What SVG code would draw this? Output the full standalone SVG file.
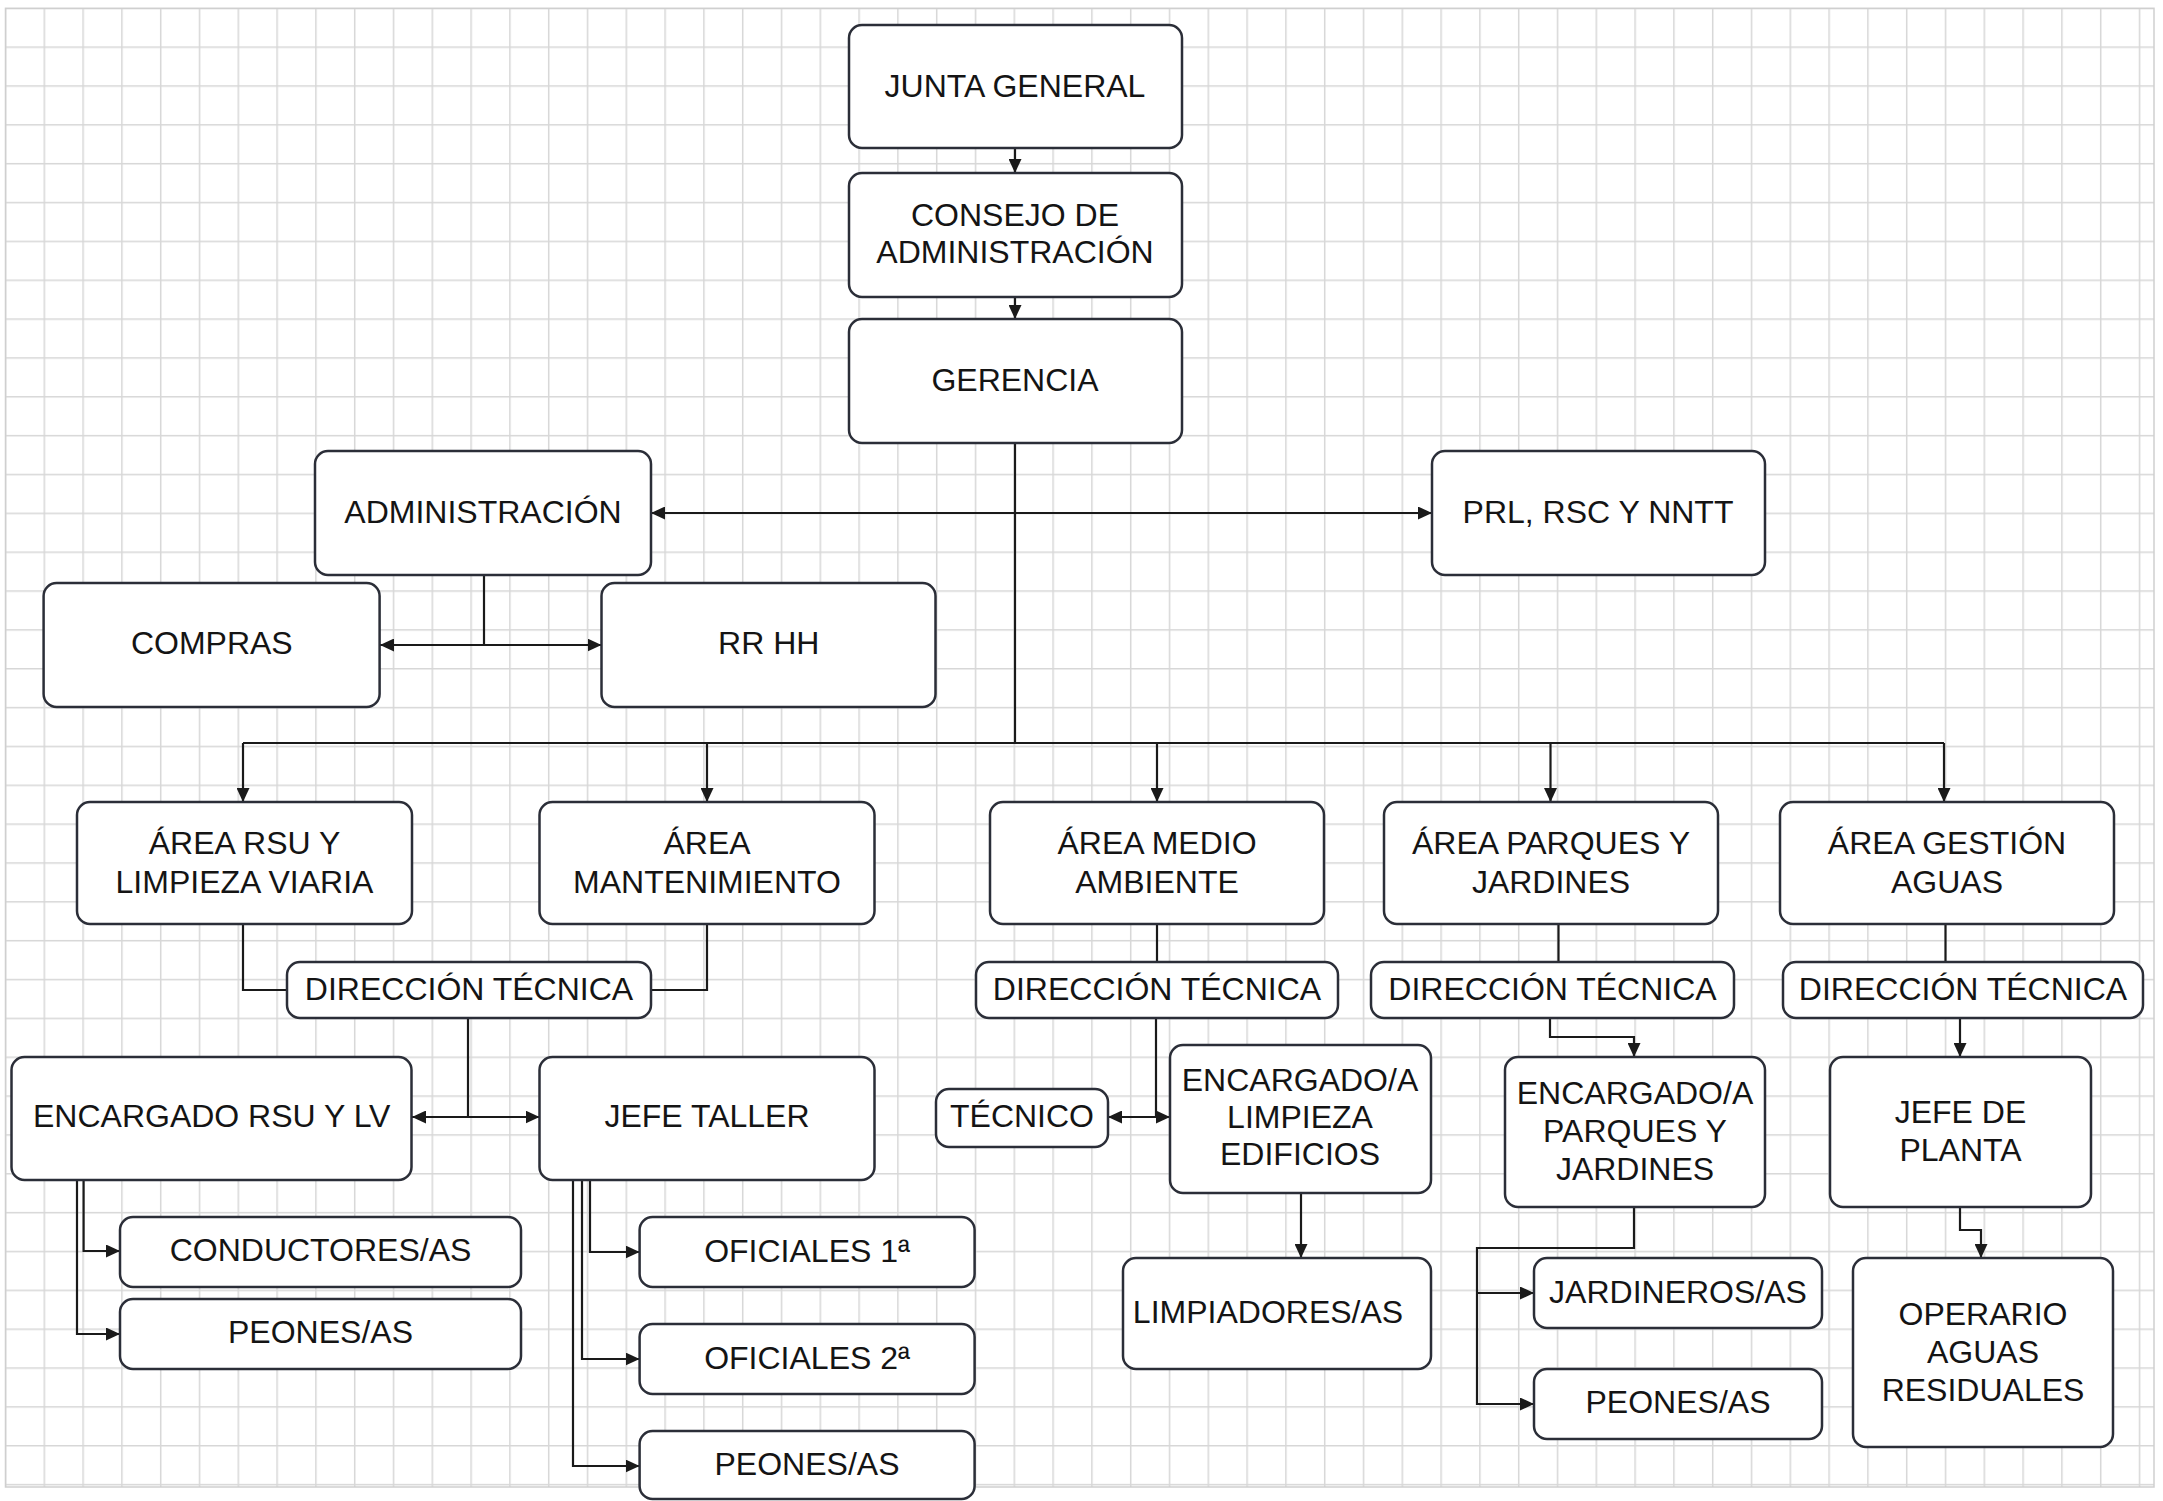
<svg xmlns="http://www.w3.org/2000/svg" width="2163" height="1501" viewBox="0 0 2163 1501">
<defs>
<style>
.box{fill:#ffffff;stroke:#2b2e38;stroke-width:2.5}
.t{font-family:"Liberation Sans",Arial,sans-serif;font-size:32px;fill:#141414;text-anchor:middle}
.c{fill:none;stroke:#1a1a1a;stroke-width:2.2}
.a{marker-end:url(#ah)}
.aa{marker-start:url(#ah);marker-end:url(#ah)}
</style>
<marker id="ah" viewBox="0 0 14 13" refX="14" refY="6.5" markerWidth="14" markerHeight="13" markerUnits="userSpaceOnUse" orient="auto-start-reverse">
<path d="M0,0 L14,6.5 L0,13 z" fill="#1a1a1a"/>
</marker>
<pattern id="grid" patternUnits="userSpaceOnUse" x="4.75" y="7.55" width="38.8" height="38.85">
<path d="M0.75,0 V38.85 M0,0.75 H38.8" fill="none" stroke="#d7d7d7" stroke-width="1.5"/>
</pattern>
</defs>
<rect x="0" y="0" width="2163" height="1501" fill="#ffffff"/>
<rect x="5.5" y="8.3" width="2148.5" height="1478.7" fill="url(#grid)" stroke="#cfcfcf" stroke-width="1.5"/>

<g id="connectors">
<path class="c a" d="M1015,148 V173"/>
<path class="c a" d="M1015,297 V319"/>
<path class="c" d="M1015,443 V743"/>
<path class="c aa" d="M651,513 H1432"/>
<path class="c" d="M484,575 V645"/>
<path class="c aa" d="M380,645 H601.5"/>
<path class="c" d="M243,743 H1944"/>
<path class="c a" d="M243,743 V802"/>
<path class="c a" d="M707,743 V802"/>
<path class="c a" d="M1157,743 V802"/>
<path class="c a" d="M1550.5,743 V802"/>
<path class="c a" d="M1944,743 V802"/>
<path class="c" d="M243,924 V990 H287"/>
<path class="c" d="M707,924 V990 H651"/>
<path class="c" d="M468,1018 V1117"/>
<path class="c aa" d="M412,1117 H539.5"/>
<path class="c a" d="M83.6,1180 V1251 H120"/>
<path class="c a" d="M77,1180 V1334 H120"/>
<path class="c a" d="M590,1180 V1252 H639.6"/>
<path class="c a" d="M582,1180 V1359 H639.6"/>
<path class="c a" d="M573,1180 V1466 H639.6"/>
<path class="c" d="M1157,924 V962"/>
<path class="c" d="M1156,1018 V1117"/>
<path class="c aa" d="M1108,1117 H1170"/>
<path class="c a" d="M1301,1193 V1258"/>
<path class="c" d="M1558.5,924 V962"/>
<path class="c a" d="M1550,1018 V1037 H1634 V1057"/>
<path class="c a" d="M1634,1207 V1248 H1477 V1404 H1534"/>
<path class="c a" d="M1477,1293 H1534"/>
<path class="c" d="M1945.5,924 V962"/>
<path class="c a" d="M1960,1018 V1057"/>
<path class="c a" d="M1960,1207 V1230 H1981 V1258"/>
</g>

<g id="junta"><rect class="box" x="849" y="25" width="333" height="123" rx="13"/><text class="t" x="1015" y="96.5">JUNTA GENERAL</text></g>
<g id="consejo"><rect class="box" x="849" y="173" width="333" height="124" rx="13"/><text class="t" x="1015" y="226">CONSEJO DE</text><text class="t" x="1015" y="263">ADMINISTRACIÓN</text></g>
<g id="gerencia"><rect class="box" x="849" y="319" width="333" height="124" rx="13"/><text class="t" x="1015" y="390.5">GERENCIA</text></g>
<g id="administracion"><rect class="box" x="315" y="451" width="336" height="124" rx="13"/><text class="t" x="483" y="522.5">ADMINISTRACIÓN</text></g>
<g id="prl"><rect class="box" x="1432" y="451" width="333" height="124" rx="13"/><text class="t" x="1598" y="522.5">PRL, RSC Y NNTT</text></g>
<g id="compras"><rect class="box" x="43.6" y="583" width="336" height="124" rx="13"/><text class="t" x="211.8" y="653.5">COMPRAS</text></g>
<g id="rrhh"><rect class="box" x="601.5" y="583" width="334" height="124" rx="13"/><text class="t" x="768.7" y="653.5">RR HH</text></g>

<g id="area-rsu"><rect class="box" x="77" y="802" width="335" height="122" rx="13"/><text class="t" x="244.5" y="853.5">ÁREA RSU Y</text><text class="t" x="244.5" y="892.5">LIMPIEZA VIARIA</text></g>
<g id="area-mant"><rect class="box" x="539.5" y="802" width="335" height="122" rx="13"/><text class="t" x="707" y="853.5">ÁREA</text><text class="t" x="707" y="892.5">MANTENIMIENTO</text></g>
<g id="area-medio"><rect class="box" x="990" y="802" width="334" height="122" rx="13"/><text class="t" x="1157" y="853.5">ÁREA MEDIO</text><text class="t" x="1157" y="892.5">AMBIENTE</text></g>
<g id="area-parques"><rect class="box" x="1384" y="802" width="334" height="122" rx="13"/><text class="t" x="1551" y="853.5">ÁREA PARQUES Y</text><text class="t" x="1551" y="892.5">JARDINES</text></g>
<g id="area-aguas"><rect class="box" x="1780" y="802" width="334" height="122" rx="13"/><text class="t" x="1947" y="853.5">ÁREA GESTIÓN</text><text class="t" x="1947" y="892.5">AGUAS</text></g>

<g id="dt-rsu"><rect class="box" x="287" y="962" width="364" height="56" rx="13"/><text class="t" x="469" y="999.5">DIRECCIÓN TÉCNICA</text></g>
<g id="dt-medio"><rect class="box" x="976" y="962" width="362" height="56" rx="13"/><text class="t" x="1157" y="999.5">DIRECCIÓN TÉCNICA</text></g>
<g id="dt-parques"><rect class="box" x="1371" y="962" width="363" height="56" rx="13"/><text class="t" x="1552.5" y="999.5">DIRECCIÓN TÉCNICA</text></g>
<g id="dt-aguas"><rect class="box" x="1783" y="962" width="360" height="56" rx="13"/><text class="t" x="1963" y="999.5">DIRECCIÓN TÉCNICA</text></g>

<g id="enc-rsu"><rect class="box" x="11.5" y="1057" width="400" height="123" rx="13"/><text class="t" x="211.7" y="1126.5">ENCARGADO RSU Y LV</text></g>
<g id="jefe-taller"><rect class="box" x="539.5" y="1057" width="335" height="123" rx="13"/><text class="t" x="707" y="1126.5">JEFE TALLER</text></g>
<g id="conductores"><rect class="box" x="120" y="1217" width="401" height="70" rx="13"/><text class="t" x="320.5" y="1260.5">CONDUCTORES/AS</text></g>
<g id="peones-rsu"><rect class="box" x="120" y="1299" width="401" height="70" rx="13"/><text class="t" x="320.5" y="1343">PEONES/AS</text></g>
<g id="oficiales1"><rect class="box" x="639.6" y="1217" width="335" height="70" rx="13"/><text class="t" x="807" y="1261.5">OFICIALES 1ª</text></g>
<g id="oficiales2"><rect class="box" x="639.6" y="1324" width="335" height="70" rx="13"/><text class="t" x="807" y="1368.5">OFICIALES 2ª</text></g>
<g id="peones-taller"><rect class="box" x="639.6" y="1431" width="335" height="68" rx="13"/><text class="t" x="807" y="1474.5">PEONES/AS</text></g>

<g id="tecnico"><rect class="box" x="936" y="1089" width="172" height="58" rx="13"/><text class="t" x="1022" y="1126.5">TÉCNICO</text></g>
<g id="enc-limpieza"><rect class="box" x="1170" y="1045" width="261" height="148" rx="13"/><text class="t" x="1300" y="1091">ENCARGADO/A</text><text class="t" x="1300" y="1128">LIMPIEZA</text><text class="t" x="1300" y="1165">EDIFICIOS</text></g>
<g id="limpiadores"><rect class="box" x="1123" y="1258" width="308" height="111" rx="13"/><text class="t" x="1268" y="1322.5">LIMPIADORES/AS</text></g>

<g id="enc-parques"><rect class="box" x="1505" y="1057" width="260" height="150" rx="13"/><text class="t" x="1635" y="1103.5">ENCARGADO/A</text><text class="t" x="1635" y="1141.5">PARQUES Y</text><text class="t" x="1635" y="1179.5">JARDINES</text></g>
<g id="jardineros"><rect class="box" x="1534" y="1258" width="288" height="70" rx="13"/><text class="t" x="1678" y="1302.5">JARDINEROS/AS</text></g>
<g id="peones-parques"><rect class="box" x="1534" y="1369" width="288" height="70" rx="13"/><text class="t" x="1678" y="1413">PEONES/AS</text></g>

<g id="jefe-planta"><rect class="box" x="1830" y="1057" width="261" height="150" rx="13"/><text class="t" x="1960.5" y="1122.5">JEFE DE</text><text class="t" x="1960.5" y="1161">PLANTA</text></g>
<g id="operario"><rect class="box" x="1853" y="1258" width="260" height="189" rx="13"/><text class="t" x="1983" y="1324.5">OPERARIO</text><text class="t" x="1983" y="1362.5">AGUAS</text><text class="t" x="1983" y="1400.5">RESIDUALES</text></g>
</svg>
